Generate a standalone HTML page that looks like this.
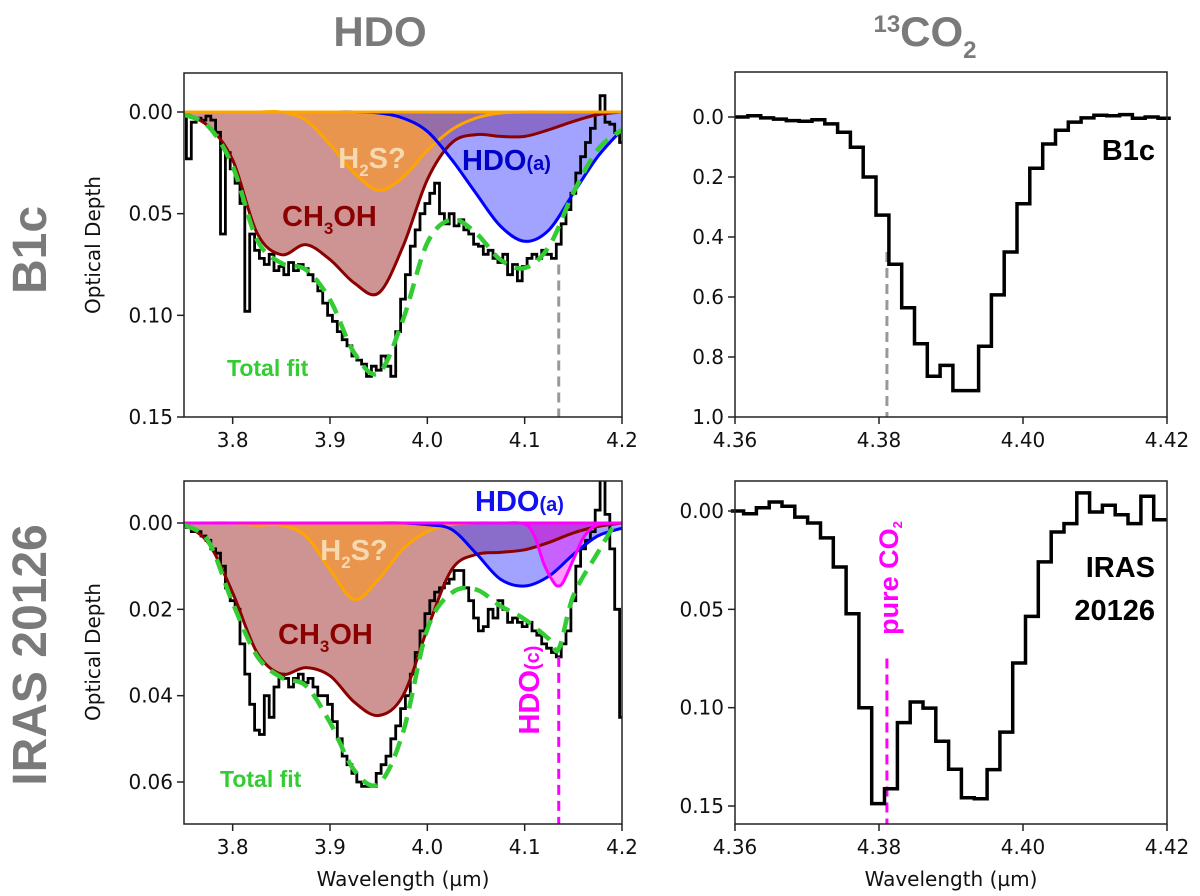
<!DOCTYPE html>
<html><head><meta charset="utf-8"><style>
body{margin:0;background:#fff}
svg{display:block;font-family:"Liberation Sans","DejaVu Sans",sans-serif}
</style></head><body>
<svg id="fig" width="1200" height="896" viewBox="0 0 1200 896" xmlns="http://www.w3.org/2000/svg">
<g id="root"></g>
</svg>
<script>
// ===== Data =====
const aGrid = [3.75,3.775,3.80,3.825,3.85,3.875,3.90,3.925,3.95,3.975,4.00,4.025,4.05,4.075,4.10,4.125,4.15,4.175,4.20];
const aCH3OH = [0.0005,0.007,0.0236,0.0595,0.0702,0.0652,0.0726,0.0841,0.089,0.0661,0.0333,0.0152,0.0111,0.012,0.012,0.0087,0.0046,0.0013,0];
const aH2S = [0,0,0,0,0,0.004,0.016,0.030,0.0385,0.032,0.019,0.0087,0.003,0.0005,0,0,0,0,0];
const aHDO = [0,0,0,0,0,0,0,0,0.0005,0.003,0.0095,0.0234,0.040,0.056,0.0636,0.058,0.040,0.022,0.0087];
const aFit = [0.0013,0.007,0.0267,0.0628,0.0743,0.0775,0.0923,0.1185,0.1284,0.1021,0.0644,0.0529,0.0595,0.0726,0.0767,0.0661,0.0398,0.0185,0.0087];
const aObs = [0.0,0.023,0.005,0.003,0.004,0.002,0.004,0.01,0.06,0.02,0.028,0.035,0.045,0.098,0.06,0.068,0.072,0.075,0.07,0.078,0.076,0.08,0.074,0.078,0.075,0.077,0.08,0.083,0.088,0.094,0.1,0.103,0.108,0.112,0.115,0.12,0.122,0.124,0.13,0.125,0.127,0.12,0.125,0.13,0.108,0.092,0.08,0.066,0.058,0.05,0.045,0.04,0.035,0.05,0.055,0.05,0.056,0.053,0.058,0.06,0.065,0.066,0.07,0.068,0.072,0.074,0.07,0.08,0.075,0.083,0.076,0.072,0.07,0.072,0.068,0.07,0.072,0.065,0.055,0.048,0.04,0.03,0.022,0.015,0.008,0.0,-0.008,0.005,0.006,0.01,0.015];
const cCH3OH = [0.0004,0.0046,0.0162,0.030,0.035,0.0335,0.0354,0.0415,0.0446,0.040,0.0246,0.0108,0.0073,0.0068,0.0062,0.0045,0.0023,0.0008,0];
const cH2S = [0,0,0,0.0005,0.0005,0.003,0.0108,0.0177,0.013,0.006,0.002,0.0003,0,0,0,0,0,0,0];
const cHDOa = [0,0,0,0,0,0,0,0,0,0,0.0004,0.0015,0.007,0.013,0.0146,0.0123,0.0073,0.003,0.0012];
const cHDOcGrid = [4.08,4.10,4.11,4.12,4.13,4.135,4.14,4.15,4.16,4.17,4.18,4.20];
const cHDOc = [0,0.0002,0.003,0.0096,0.0138,0.0146,0.0135,0.0085,0.0035,0.001,0.0002,0];
const cFitGrid = [3.75,3.775,3.80,3.825,3.85,3.875,3.90,3.925,3.95,3.975,4.00,4.025,4.05,4.075,4.10,4.125,4.135,4.15,4.175,4.19];
const cFit = [0.0004,0.0042,0.0185,0.0308,0.0358,0.0377,0.0462,0.0573,0.0604,0.0485,0.0246,0.0162,0.0154,0.0192,0.0223,0.0269,0.0292,0.0169,0.0069,0.0012];
const cObs = [0.0,0.001,0.002,0.002,0.003,0.004,0.006,0.007,0.01,0.015,0.018,0.02,0.028,0.035,0.042,0.048,0.049,0.04,0.045,0.038,0.035,0.036,0.038,0.036,0.035,0.037,0.036,0.038,0.04,0.04,0.042,0.046,0.05,0.054,0.056,0.058,0.06,0.061,0.061,0.061,0.058,0.056,0.054,0.05,0.047,0.043,0.04,0.035,0.03,0.025,0.021,0.018,0.016,0.015,0.014,0.013,0.011,0.011,0.015,0.018,0.022,0.025,0.024,0.02,0.022,0.018,0.02,0.023,0.022,0.023,0.024,0.023,0.025,0.026,0.028,0.029,0.03,0.031,0.028,0.025,0.018,0.01,0.006,0.004,0.002,-0.003,-0.012,-0.002,0.006,0.02,0.045];
const bStart = 4.3609, bStep = 0.00178;
const bVals = [0,-0.004,0.003,0.007,0.012,0.014,0.009,0.023,0.051,0.101,0.200,0.327,0.491,0.636,0.756,0.864,0.828,0.912,0.912,0.764,0.593,0.450,0.289,0.171,0.090,0.044,0.017,0.003,-0.006,-0.004,-0.008,0.004,0.0,0.004];
const dStart = 4.3603, dStep = 0.00178;
const dVals = [0,0.0014,-0.0017,-0.0046,-0.0024,0.0031,0.0061,0.0137,0.0285,0.0522,0.1000,0.1488,0.1412,0.1076,0.0971,0.1002,0.1171,0.1313,0.1458,0.1463,0.1315,0.1124,0.0773,0.0536,0.0259,0.0107,0.0064,-0.0092,0.0005,-0.0029,0.0019,0.0064,-0.0075,0.0044];
const leftXTicks = [3.8,3.9,4.0,4.1,4.2];
const leftXLabels = ["3.8","3.9","4.0","4.1","4.2"];
const rightXTicks = [4.36,4.38,4.40,4.42];
const rightXLabels = ["4.36","4.38","4.40","4.42"];
const aYTicks = [0,0.05,0.10,0.15], aYLabels=["0.00","0.05","0.10","0.15"];
const bYTicks = [0,0.2,0.4,0.6,0.8,1.0], bYLabels=["0.0","0.2","0.4","0.6","0.8","1.0"];
const cYTicks = [0,0.02,0.04,0.06], cYLabels=["0.00","0.02","0.04","0.06"];
const dYTicks = [0,0.05,0.10,0.15], dYLabels=["0.00","0.05","0.10","0.15"];

// ===== helpers =====
const NS="http://www.w3.org/2000/svg";
const root=document.getElementById('root');
function el(tag,attrs,parent){const e=document.createElementNS(NS,tag);for(const k in attrs)e.setAttribute(k,attrs[k]);(parent||root).appendChild(e);return e;}
function scale(d0,d1,r0,r1){return v=>r0+(v-d0)/(d1-d0)*(r1-r0);}
function smoothPath(pts){
  let d='M'+pts[0][0].toFixed(1)+','+pts[0][1].toFixed(1);
  for(let i=0;i<pts.length-1;i++){
    const p0=pts[Math.max(0,i-1)],p1=pts[i],p2=pts[i+1],p3=pts[Math.min(pts.length-1,i+2)];
    const c1=[p1[0]+(p2[0]-p0[0])/6,p1[1]+(p2[1]-p0[1])/6];
    const c2=[p2[0]-(p3[0]-p1[0])/6,p2[1]-(p3[1]-p1[1])/6];
    d+=`C${c1[0].toFixed(1)},${c1[1].toFixed(1)} ${c2[0].toFixed(1)},${c2[1].toFixed(1)} ${p2[0].toFixed(1)},${p2[1].toFixed(1)}`;
  }
  return d;
}
function stepPath(xs,ys,sx,sy,half){
  let d='';
  for(let i=0;i<xs.length;i++){
    const x0=sx(xs[i]-half),x1=sx(xs[i]+half),y=sy(ys[i]);
    d+=(i===0?'M':'L')+x0.toFixed(1)+','+y.toFixed(1)+'L'+x1.toFixed(1)+','+y.toFixed(1);
  }
  return d;
}
function axes(P,xt,xl,yt,yl,name){
  const g=el('g',{'font-family':'"DejaVu Sans",sans-serif'});
  
  
  xt.forEach((t,i)=>{const x=P.sx(t);el('line',{x1:x,x2:x,y1:P.b,y2:P.b+7,stroke:'#222','stroke-width':1.5},g);
    const tx=el('text',{x:x,y:P.b+30,'font-size':20,'text-anchor':'middle',fill:'#111'},g);tx.textContent=xl[i];
    
    });
  yt.forEach((t,i)=>{const y=P.sy(t);el('line',{x1:P.l-7,x2:P.l,y1:y,y2:y,stroke:'#222','stroke-width':1.5},g);
    const tx=el('text',{x:P.l-11,y:y+7,'font-size':20,'text-anchor':'end',fill:'#111'},g);tx.textContent=yl[i];
    
    });
  el('rect',{x:P.l,y:P.t,width:P.r-P.l,height:P.b-P.t,fill:'none',stroke:'#222','stroke-width':1.5},g);
}
function txt(x,y,s,attrs,name){const t=el('text',Object.assign({x:x,y:y},attrs));t.innerHTML=s;
  
  return t;}

const A={l:184,r:622,t:73,b:417};A.sx=scale(3.75,4.2,A.l,A.r);A.sy=scale(0,0.15,112,417);
const C={l:184,r:622,t:481,b:824};C.sx=scale(3.75,4.2,C.l,C.r);C.sy=scale(0,0.06,523,782);
const B={l:735,r:1167,t:72,b:417};B.sx=scale(4.36,4.42,B.l,B.r);B.sy=scale(0,1.0,117,417);
const D={l:735,r:1167,t:481,b:824};D.sx=scale(4.36,4.42,D.l,D.r);D.sy=scale(0,0.15,511,806);

el('defs',{}).innerHTML='<clipPath id="ca"><rect x="184" y="73" width="438" height="344"/></clipPath><clipPath id="cc"><rect x="184" y="481" width="438" height="343"/></clipPath>';

function panelLeft(P,clip,ch,h2s,hdo,hdoc,fitGrid,fit,obs,name){
  const g=el('g',{'clip-path':`url(#${clip})`});
  const lines=[];
  function fc(grid,vals,fill,stroke,n){const pts=grid.map((w,i)=>[P.sx(w),P.sy(vals[i])]);const line=smoothPath(pts);
    const f=el('path',{d:line+`L${P.sx(grid[grid.length-1])},${P.sy(0)}L${P.sx(grid[0])},${P.sy(0)}Z`,fill:fill},g);
    
    
    lines.push([line,stroke,n]);}
  fc(aGrid,ch,'rgba(139,0,0,0.42)','#8b0000','ch3oh');
  fc(aGrid,h2s,'rgba(255,150,20,0.55)','#ffa500','h2s');
  fc(aGrid,hdo,'rgba(70,70,255,0.5)','#0000ff','hdo-a');
  if(hdoc) fc(cHDOcGrid,hdoc,'rgba(255,0,255,0.4)','#ff00ff','hdo-c');
  const xs=obs.map((v,i)=>3.75+i*0.005);
  const o=el('path',{d:stepPath(xs,obs,P.sx,P.sy,0.0025),fill:'none',stroke:'#000','stroke-width':2.8},g);
  
  
  lines.forEach(([ln,st,n])=>{const p=el('path',{d:ln,fill:'none',stroke:st,'stroke-width':3},g);
    
    });
  const z=el('line',{x1:P.l,x2:P.r,y1:P.sy(0),y2:P.sy(0),stroke:hdoc?'#ff00ff':'#ffa500','stroke-width':3},g);
  
  
  const fp=el('path',{d:smoothPath(fitGrid.map((w,i)=>[P.sx(w),P.sy(fit[i])])),fill:'none',stroke:'#33cc33','stroke-width':4.5,'stroke-dasharray':'16,9'},g);
  
  
}
panelLeft(A,'ca',aCH3OH,aH2S,aHDO,null,aGrid,aFit,aObs,'b1c');
panelLeft(C,'cc',cCH3OH,cH2S,cHDOa,cHDOc,cFitGrid,cFit,cObs,'iras');

let m=el('line',{x1:A.sx(4.135),x2:A.sx(4.135),y1:A.sy(0.075),y2:A.b,stroke:'#999','stroke-width':3,'stroke-dasharray':'10,6'});

m=el('line',{x1:B.sx(4.3811),x2:B.sx(4.3811),y1:B.sy(0.45),y2:B.b,stroke:'#999','stroke-width':3,'stroke-dasharray':'10,6'});

m=el('line',{x1:C.sx(4.135),x2:C.sx(4.135),y1:C.sy(0.031),y2:C.b,stroke:'#ff00ff','stroke-width':3,'stroke-dasharray':'10,6'});

m=el('line',{x1:D.sx(4.3811),x2:D.sx(4.3811),y1:D.sy(0.075),y2:D.b,stroke:'#ff00ff','stroke-width':3,'stroke-dasharray':'10,6'});


let s=el('path',{d:stepPath(bVals.map((v,i)=>bStart+i*bStep),bVals,B.sx,B.sy,bStep/2),fill:'none',stroke:'#000','stroke-width':3.5});

s=el('path',{d:stepPath(dVals.map((v,i)=>dStart+i*dStep),dVals,D.sx,D.sy,dStep/2),fill:'none',stroke:'#000','stroke-width':3.5});


axes(A,leftXTicks,leftXLabels,aYTicks,aYLabels,'b1c-hdo');
axes(C,leftXTicks,leftXLabels,cYTicks,cYLabels,'iras-hdo');
axes(B,rightXTicks,rightXLabels,bYTicks,bYLabels,'b1c-co2');
axes(D,rightXTicks,rightXLabels,dYTicks,dYLabels,'iras-co2');

txt(380,46,'HDO',{'font-size':42,'font-weight':'bold',fill:'#7a7a7a','text-anchor':'middle'},'hdo-column-title');
txt(925,46,'<tspan font-size="24" dy="-14">13</tspan><tspan dy="14">CO</tspan><tspan font-size="24" dy="12">2</tspan>',{'font-size':42,'font-weight':'bold',fill:'#7a7a7a','text-anchor':'middle'},'13co2-column-title');
txt(0,0,'B1c',{'font-size':48,'font-weight':'bold',fill:'#7a7a7a','text-anchor':'middle',transform:'translate(46,250) rotate(-90)'},'b1c-row-label');
txt(0,0,'IRAS 20126',{'font-size':48,'font-weight':'bold',fill:'#7a7a7a','text-anchor':'middle',transform:'translate(46,655) rotate(-90)'},'iras-row-label');
txt(0,0,'Optical Depth',{'font-size':20,fill:'#111','text-anchor':'middle','font-family':'"DejaVu Sans",sans-serif',transform:'translate(100,245) rotate(-90)'},'y-axis-title-top');
txt(0,0,'Optical Depth',{'font-size':20,fill:'#111','text-anchor':'middle','font-family':'"DejaVu Sans",sans-serif',transform:'translate(100,652) rotate(-90)'},'y-axis-title-bottom');
txt(403,886,'Wavelength (µm)',{'font-size':20,fill:'#111','text-anchor':'middle','font-family':'"DejaVu Sans",sans-serif'},'x-axis-title-left');
txt(951,886,'Wavelength (µm)',{'font-size':20,fill:'#111','text-anchor':'middle','font-family':'"DejaVu Sans",sans-serif'},'x-axis-title-right');

txt(372,168,'H<tspan font-size="17" dy="8">2</tspan><tspan dy="-8">S?</tspan>',{'font-size':29,'font-weight':'bold',fill:'#f7d9b0','text-anchor':'middle'},'h2s-label-top');
txt(462,170,'HDO<tspan font-size="20">(a)</tspan>',{'font-size':29,'font-weight':'bold',fill:'#0000c8'},'hdo-a-label-top');
txt(282,226,'CH<tspan font-size="17" dy="8">3</tspan><tspan dy="-8">OH</tspan>',{'font-size':29,'font-weight':'bold',fill:'#8b0000'},'ch3oh-label-top');
txt(227,376,'Total fit',{'font-size':23,'font-weight':'bold',fill:'#33cc33'},'total-fit-label-top');

txt(354,560,'H<tspan font-size="17" dy="8">2</tspan><tspan dy="-8">S?</tspan>',{'font-size':29,'font-weight':'bold',fill:'#f7d9b0','text-anchor':'middle'},'h2s-label-bottom');
txt(475,511,'HDO<tspan font-size="20">(a)</tspan>',{'font-size':29,'font-weight':'bold',fill:'#1010f0'},'hdo-a-label-bottom');
txt(278,644,'CH<tspan font-size="17" dy="8">3</tspan><tspan dy="-8">OH</tspan>',{'font-size':29,'font-weight':'bold',fill:'#8b0000'},'ch3oh-label-bottom');
txt(220,787,'Total fit',{'font-size':23,'font-weight':'bold',fill:'#33cc33'},'total-fit-label-bottom');
txt(0,0,'HDO<tspan font-size="20">(c)</tspan>',{'font-size':29,'font-weight':'bold',fill:'#ff00ff','text-anchor':'middle',transform:'translate(539,690) rotate(-90)'},'hdo-c-label');
txt(0,0,'pure CO<tspan font-size="13" dy="4">2</tspan>',{'font-size':27,'font-weight':'bold',fill:'#ff00ff','text-anchor':'middle',transform:'translate(898,578) rotate(-90)'},'pure-co2-label');

txt(1155,160,'B1c',{'font-size':29,'font-weight':'bold',fill:'#000','text-anchor':'end'},'b1c-panel-label');
txt(1155,577,'IRAS',{'font-size':29,'font-weight':'bold',fill:'#000','text-anchor':'end'},'iras-panel-label-1');
txt(1155,620,'20126',{'font-size':29,'font-weight':'bold',fill:'#000','text-anchor':'end'},'iras-panel-label-2');
</script>
</body></html>
